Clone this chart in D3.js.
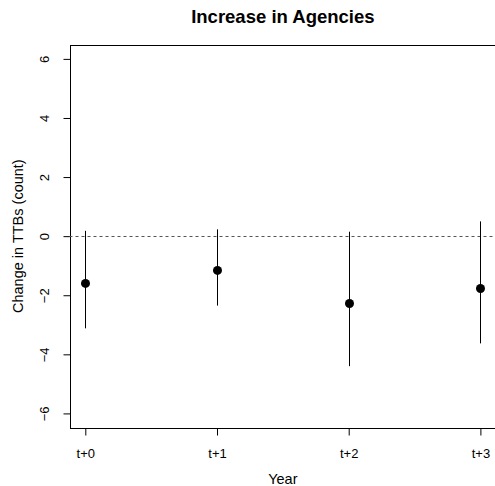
<!DOCTYPE html>
<html>
<head>
<meta charset="utf-8">
<script src="https://cdn.jsdelivr.net/npm/d3@7"></script>
<style>
  html, body { margin: 0; padding: 0; background: #fff; }
  svg { display: block; }
  text { font-family: "Liberation Sans", Arial, Helvetica, sans-serif; fill: #000; }
</style>
</head>
<body>
<svg id="chart" width="495" height="486"></svg>
<script>
const categories = ["t+0", "t+1", "t+2", "t+3"];
const estimates = [-1.60, -1.16, -2.28, -1.77];
const lowerCI = [-3.12, -2.35, -4.40, -3.63];
const upperCI = [0.18, 0.23, 0.15, 0.50];
const yTicks = [-6, -4, -2, 0, 2, 4, 6];
const titleText = "Increase in Agencies";
const xLabel = "Year";
const yLabel = "Change in TTBs (count)";

const svg = d3.select("#chart");
const pLeft = 69.5, pRight = 496.2, pTop = 44.7, pBottom = 427.6;

const x = d3.scaleLinear().domain([-0.12, 3.12]).range([pLeft, pRight]);
const y = d3.scaleLinear().domain([-6.48, 6.48]).range([pBottom, pTop]);

// box
svg.append("rect")
  .attr("x", Math.round(pLeft) + 0.5).attr("y", Math.round(pTop) + 0.5)
  .attr("width", Math.round(pRight) - Math.round(pLeft))
  .attr("height", Math.round(pBottom) - Math.round(pTop))
  .attr("fill", "none").attr("stroke", "#000").attr("stroke-width", 1);

// y axis
const yAxis = d3.axisLeft(y).tickValues(yTicks).tickSize(7).tickPadding(0)
  .tickFormat(d => d < 0 ? "\u2212" + Math.abs(d) : String(d));
const gy = svg.append("g").attr("transform", `translate(${Math.round(pLeft) + 0.5},0)`).call(yAxis);
gy.select(".domain").remove();
gy.selectAll(".tick line").attr("stroke", "#000");
gy.selectAll(".tick text")
  .attr("x", 0).attr("dy", null)
  .attr("transform", "translate(-26,0) rotate(-90)")
  .attr("text-anchor", "middle")
  .attr("dominant-baseline", "central")
  .style("font-size", "13px").style("font-family", "'Liberation Sans', Arial, sans-serif");

// x axis
const xAxis = d3.axisBottom(x).tickValues(d3.range(categories.length))
  .tickFormat(i => categories[i]).tickSize(7).tickPadding(13);
const gx = svg.append("g").attr("transform", `translate(0,${Math.round(pBottom) + 0.5})`).call(xAxis);
gx.select(".domain").remove();
gx.selectAll(".tick line").attr("stroke", "#000");
gx.selectAll(".tick text")
  .style("font-size", "13px").style("font-family", "'Liberation Sans', Arial, sans-serif");

// reference line at 0
svg.append("line")
  .attr("x1", x(-0.12)).attr("x2", x(3.12))
  .attr("y1", Math.round(y(0)) + 0.5).attr("y2", Math.round(y(0)) + 0.5)
  .attr("stroke", "#555").attr("stroke-width", 1).attr("stroke-dasharray", "3,3");

// error bars
svg.selectAll(".ci").data(categories).enter().append("line")
  .attr("class", "ci")
  .attr("x1", (d, i) => Math.round(x(i)) + 0.5).attr("x2", (d, i) => Math.round(x(i)) + 0.5)
  .attr("y1", (d, i) => y(lowerCI[i])).attr("y2", (d, i) => y(upperCI[i]))
  .attr("stroke", "#000").attr("stroke-width", 1);

// points
svg.selectAll(".pt").data(categories).enter().append("circle")
  .attr("class", "pt")
  .attr("cx", (d, i) => Math.round(x(i)) + 0.5).attr("cy", (d, i) => y(estimates[i]))
  .attr("r", 4.5).attr("fill", "#000");

// title
svg.append("text").attr("x", (pLeft + pRight) / 2).attr("y", 23)
  .attr("text-anchor", "middle").style("font-size", "18.5px").style("font-weight", "bold")
  .text(titleText);

// axis titles
svg.append("text").attr("x", (pLeft + pRight) / 2).attr("y", 484)
  .attr("text-anchor", "middle").style("font-size", "14.5px").text(xLabel);
svg.append("text").attr("transform", `translate(23,${(pTop + pBottom) / 2}) rotate(-90)`)
  .attr("text-anchor", "middle").style("font-size", "14.5px").text(yLabel);
</script>
</body>
</html>
